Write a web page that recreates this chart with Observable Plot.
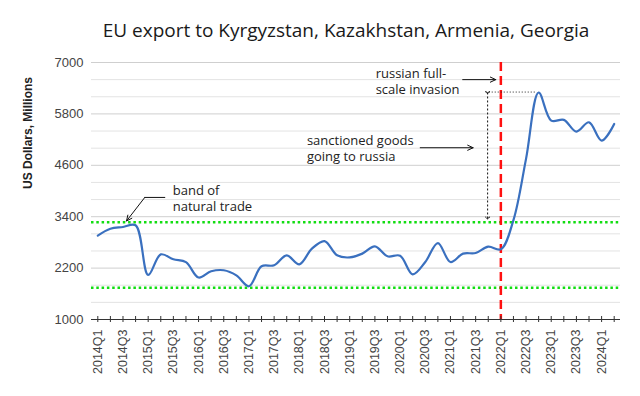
<!DOCTYPE html>
<html>
<head>
<meta charset="utf-8">
<script src="https://cdn.jsdelivr.net/npm/d3@7"></script>
<script src="https://cdn.jsdelivr.net/npm/@observablehq/plot@0.6"></script>
<style>
  html, body { margin: 0; padding: 0; background: #fff; }
</style>
</head>
<body>
<div id="chart"></div>
<script>
const titleText = "EU export to Kyrgyzstan, Kazakhstan, Armenia, Georgia";
const yTitle = "US Dollars, Millions";

const quarters = [
  "2014Q1","2014Q2","2014Q3","2014Q4","2015Q1","2015Q2","2015Q3","2015Q4",
  "2016Q1","2016Q2","2016Q3","2016Q4","2017Q1","2017Q2","2017Q3","2017Q4",
  "2018Q1","2018Q2","2018Q3","2018Q4","2019Q1","2019Q2","2019Q3","2019Q4",
  "2020Q1","2020Q2","2020Q3","2020Q4","2021Q1","2021Q2","2021Q3","2021Q4",
  "2022Q1","2022Q2","2022Q3","2022Q4","2023Q1","2023Q2","2023Q3","2023Q4",
  "2024Q1","2024Q2"
];
const exportsUSD = [
  2960, 3120, 3160, 3200, 2040, 2520, 2405, 2340,
  1980, 2125, 2150, 2030, 1776, 2242, 2265, 2498,
  2288, 2654, 2831, 2498, 2450, 2538, 2708, 2475,
  2490, 2055, 2342, 2785, 2342, 2538, 2552, 2700,
  2640, 3320, 4750, 6300, 5644, 5660, 5387, 5604,
  5178, 5567
];

const yTicks = [1000, 2200, 3400, 4600, 5800, 7000];
const yGrid = [1400, 1800, 2600, 3000, 3800, 4200, 5000, 5400, 6200, 6600];
const bandLevels = [1740, 3270];
const invasionQuarter = "2022Q1";
const peakLevel = 6310;

// annotation anchors (x in quarter index units, y in USD millions)
const notes = [
  {text: "band of\nnatural trade", x: 5.95, y: 3850},
  {text: "sanctioned goods\ngoing to russia", x: 16.6, y: 5000},
  {text: "russian full-\nscale invasion", x: 22.06, y: 6580}
];
const noteArrows = [
  {x1: 3.73, y1: 3850, x2: 2.28, y2: 3300},
  {x1: 25.6, y1: 5010, x2: 29.8, y2: 5010},
  {x1: 28.97, y1: 6600, x2: 31.6, y2: 6600}
];
const bandLeader = [{x: 5.32, y: 3850}, {x: 3.73, y: 3850}];
const gapArrow = [{x: 30.95, y1: 6300, y2: 3370}];
const peakGuide = [{x1: 30.8, x2: 34.8, y: peakLevel}];

const idx = d3.range(quarters.length);
const invIdx = quarters.indexOf(invasionQuarter);
const axisFont = "'Liberation Sans', Arial, sans-serif";
const noteFont = "'Open Sans', 'Noto Sans', sans-serif";

const chart = Plot.plot({
  width: 640,
  height: 396,
  marginLeft: 91,
  marginRight: 20,
  marginTop: 62,
  marginBottom: 77,
  style: {fontFamily: axisFont, fontSize: "13px", background: "#fff", color: "#444"},
  x: {domain: [-0.5, quarters.length - 0.5]},
  y: {domain: [1000, 7000]},
  marks: [
    Plot.ruleY(yGrid, {stroke: "#e3e3e3", strokeWidth: 1}),
    Plot.ruleY(yTicks.slice(1), {stroke: "#cfcfcf", strokeWidth: 1}),
    Plot.ruleY(bandLevels, {stroke: "#11dd11", strokeWidth: 2.5, strokeDasharray: "2.5,2.8"}),
    Plot.ruleX([invIdx], {stroke: "#ff1010", strokeWidth: 2.5, strokeDasharray: "9,5"}),
    Plot.line(idx, {x: d => d, y: d => exportsUSD[d], curve: "catmull-rom", stroke: "#3a70bf", strokeWidth: 2.2}),
    // x axis line and ticks
    Plot.ruleY([1000], {stroke: "#333", strokeWidth: 1}),
    Plot.ruleX(idx, {x: d => d, y1: 1000, y2: 1000, insetTop: -3, insetBottom: -3, stroke: "#333", strokeWidth: 1}),
    Plot.axisX({
      ticks: idx.filter(i => i % 2 === 0),
      tickFormat: i => quarters[i],
      tickRotate: -90,
      tickSize: 0,
      tickPadding: 10,
      fontSize: 12.5,
      fill: "#444",
      label: null
    }),
    Plot.axisY({
      ticks: yTicks,
      tickFormat: d => String(d),
      tickSize: 0,
      tickPadding: 8,
      fontSize: 13,
      fill: "#444",
      label: null
    }),
    Plot.text([yTitle], {frameAnchor: "left", dx: -63, dy: -2, rotate: -90, fontWeight: "bold", fontSize: 12, fill: "#222"}),
    Plot.text([titleText], {frameAnchor: "top", lineAnchor: "middle", dy: -32, dx: -10, fontSize: 19, fontFamily: noteFont, fill: "#1a1a1a"}),
    // annotations
    Plot.text(notes, {x: "x", y: "y", text: "text", textAnchor: "start", lineAnchor: "middle", lineHeight: 1.25, fontSize: 13, fontFamily: noteFont, fill: "#222"}),
    Plot.line(bandLeader, {x: "x", y: "y", stroke: "#111", strokeWidth: 1}),
    Plot.arrow(noteArrows, {x1: "x1", y1: "y1", x2: "x2", y2: "y2", stroke: "#111", strokeWidth: 1, headLength: 9, headAngle: 50}),
    Plot.link(gapArrow, {x1: "x", x2: "x", y1: "y1", y2: "y2", stroke: "#111", strokeWidth: 1, strokeDasharray: "2,2", markerStart: "arrow", markerEnd: "arrow"}),
    Plot.link(peakGuide, {x1: "x1", x2: "x2", y1: "y", y2: "y", stroke: "#222", strokeWidth: 1, strokeDasharray: "1,2"})
  ]
});
document.getElementById("chart").appendChild(chart);
</script>
</body>
</html>
